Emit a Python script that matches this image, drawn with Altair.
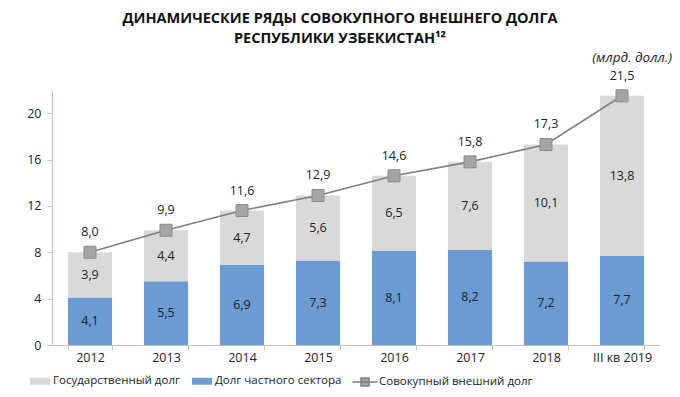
import altair as alt
import pandas as pd

years = ["2012", "2013", "2014", "2015", "2016", "2017", "2018", "III кв 2019"]
private_debt = [4.1, 5.5, 6.9, 7.3, 8.1, 8.2, 7.2, 7.7]
public_debt = [3.9, 4.4, 4.7, 5.6, 6.5, 7.6, 10.1, 13.8]
total_debt = [8.0, 9.9, 11.6, 12.9, 14.6, 15.8, 17.3, 21.5]

S_PUB = "Государственный долг"
S_PRI = "Долг частного сектора"
S_TOT = "Совокупный внешний долг"

FONT = "Open Sans"


def fmt(v):
    return f"{v:.1f}".replace(".", ",")


rows = []
for i, y in enumerate(years):
    rows.append(dict(year=y, series=S_PRI, value=private_debt[i], ord=0, label=fmt(private_debt[i])))
    rows.append(dict(year=y, series=S_PUB, value=public_debt[i], ord=1, label=fmt(public_debt[i])))
bars_df = pd.DataFrame(rows)
tot_df = pd.DataFrame(dict(year=years, value=total_debt, series=S_TOT,
                           label=[fmt(v) for v in total_debt]))
unit_df = pd.DataFrame({"t": ["(млрд. долл.)"]})

W, H = 608, 255
LEG_Y = H + 26

x_enc = alt.X(
    "year:N", sort=years, title=None,
    scale=alt.Scale(paddingInner=0.42, paddingOuter=0.21),
    axis=alt.Axis(labelAngle=0, tickBand="extent", domainColor="#BFBFBF",
                  tickColor="#BFBFBF", tickSize=5, labelFontSize=12.5,
                  labelColor="#222222", labelFont=FONT, labelPadding=1),
)
y_scale = alt.Scale(domain=[0, 22], nice=False)
y_axis = alt.Axis(values=[0, 4, 8, 12, 16, 20], grid=False, domainColor="#A9C8EA",
                  tickColor="#A9C8EA", tickSize=5, labelFontSize=12.5,
                  labelColor="#222222", labelFont=FONT, labelPadding=6, title=None)

bars = alt.Chart(bars_df).mark_bar().encode(
    x=x_enc,
    y=alt.Y("value:Q", stack="zero", scale=y_scale, axis=y_axis),
    order=alt.Order("ord:Q"),
    color=alt.Color(
        "series:N",
        scale=alt.Scale(domain=[S_PUB, S_PRI], range=["#D9D9D9", "#6A9BD2"]),
        legend=alt.Legend(
            title=None, orient="none", direction="horizontal",
            legendX=-22, legendY=LEG_Y,
            symbolType="M-1,-0.35H1V0.35H-1Z", symbolSize=400,
            symbolStrokeWidth=0, labelFontSize=11.5, labelFont=FONT,
            labelColor="#222222", columnPadding=12, labelOffset=3, labelLimit=300,
        ),
    ),
)

seg_labels = alt.Chart(bars_df).transform_stack(
    stack="value", groupby=["year"], sort=[alt.SortField("ord")], as_=["y0", "y1"]
).transform_calculate(
    mid="(datum.y0 + datum.y1) / 2"
).mark_text(fontSize=12.5, font=FONT, color="#222222").encode(
    x=alt.X("year:N", sort=years),
    y=alt.Y("mid:Q", scale=y_scale),
    text="label:N",
)

line = alt.Chart(tot_df).mark_line(strokeWidth=1.6).encode(
    x=alt.X("year:N", sort=years),
    y=alt.Y("value:Q", scale=y_scale),
    stroke=alt.Stroke(
        "series:N",
        scale=alt.Scale(domain=[S_TOT], range=["#7F7F7F"]),
        legend=alt.Legend(
            title=None, orient="none", legendX=302, legendY=LEG_Y,
            symbolType="M-1.25,0H1.25M-0.4,-0.4H0.4V0.4H-0.4Z", symbolSize=400,
            symbolStrokeWidth=1.5, symbolFillColor="#A5A5A5",
            labelFontSize=11.5, labelFont=FONT, labelColor="#222222", labelOffset=3,
            labelLimit=300,
        ),
    ),
)

points = alt.Chart(tot_df).mark_square(
    size=144, filled=True, fill="#A5A5A5", stroke="#8A8A8A", strokeWidth=1, opacity=1
).encode(
    x=alt.X("year:N", sort=years),
    y=alt.Y("value:Q", scale=y_scale),
)

tot_labels = alt.Chart(tot_df).mark_text(
    dy=-20, fontSize=12.5, font=FONT, color="#222222"
).encode(
    x=alt.X("year:N", sort=years),
    y=alt.Y("value:Q", scale=y_scale),
    text="label:N",
)

unit = alt.Chart(unit_df).mark_text(
    align="right", baseline="middle", fontStyle="italic", fontSize=13.5,
    font=FONT, color="#222222"
).encode(x=alt.value(W + 12), y=alt.value(-32), text="t:N")

chart = alt.layer(bars, seg_labels, line, points, tot_labels, unit).resolve_scale(
    color="independent", stroke="independent"
).properties(
    width=W, height=H,
    autosize=alt.AutoSizeParams(type="none"),
    padding={"left": 44, "top": 82, "right": 12, "bottom": 44},
    title=alt.TitleParams(
        ["ДИНАМИЧЕСКИЕ РЯДЫ СОВОКУПНОГО ВНЕШНЕГО ДОЛГА", "РЕСПУБЛИКИ УЗБЕКИСТАН¹²"],
        anchor="middle", fontSize=14.5, font=FONT, fontWeight="bold",
        color="#111111", dx=-16, offset=5, lineHeight=20,
    ),
).configure_view(stroke=None)

chart.save("out.html", embed_options={"renderer": "svg", "actions": False})
